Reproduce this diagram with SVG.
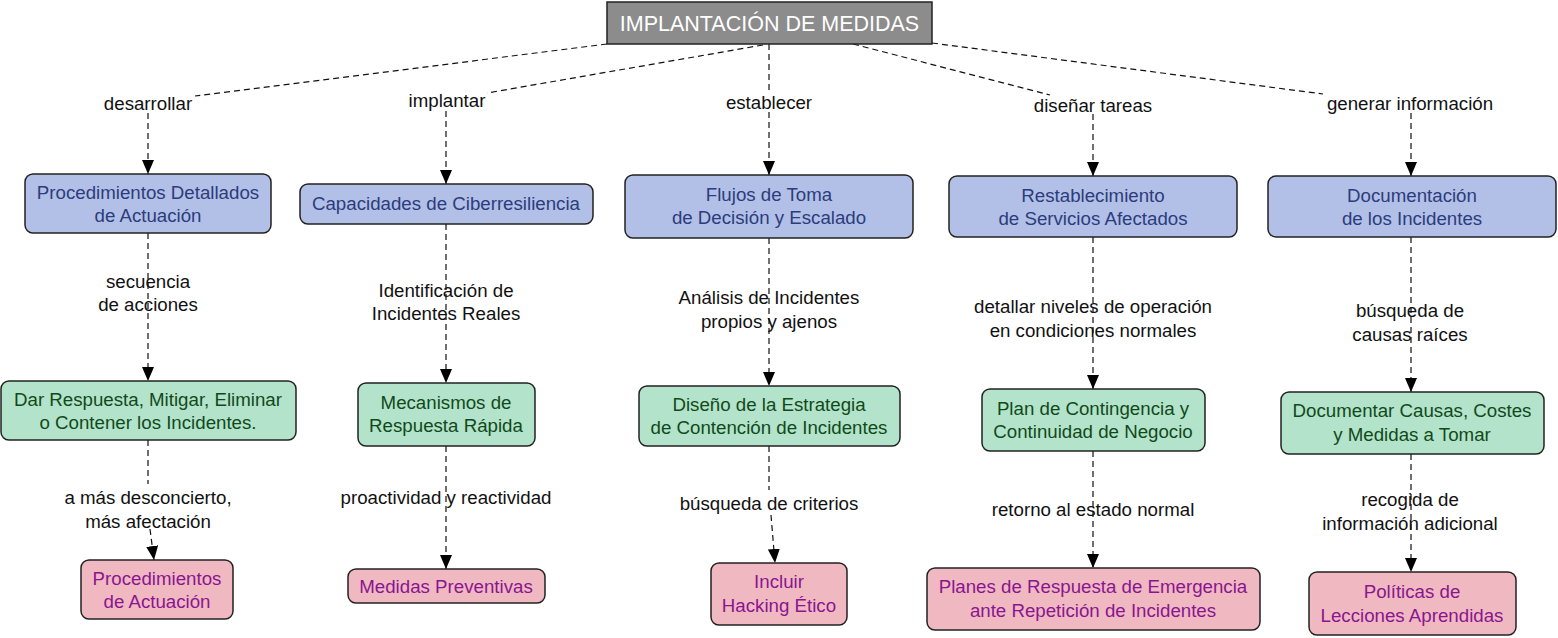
<svg xmlns="http://www.w3.org/2000/svg" width="1558" height="638" viewBox="0 0 1558 638">
<defs>
<marker id="arr" markerWidth="14" markerHeight="12" refX="14" refY="6" orient="auto" markerUnits="userSpaceOnUse">
<path d="M0,0 L14,6 L0,12 z" fill="#000"/>
</marker>
<style>
.c{fill:none;stroke:#111;stroke-width:1.2;stroke-dasharray:6,4}
.a{marker-end:url(#arr)}
rect{stroke:#222;stroke-width:1.5}
.b rect{fill:#b2c0e7}
.g rect{fill:#b3e3cb}
.p rect{fill:#f0b9c1}
text{font-family:"Liberation Sans",Arial,sans-serif;font-size:18.7px;text-anchor:middle}
.b text{fill:#2c3c7c}
.g text{fill:#114a1a}
.p text{fill:#8a1590}
.l{fill:#111}
</style>
</defs>
<g id="connectors">
<line class="c" x1="607" y1="44" x2="195" y2="96"/>
<line class="c" x1="763" y1="45" x2="487" y2="93"/>
<line class="c" x1="769" y1="44" x2="769" y2="93"/>
<line class="c" x1="853" y1="44" x2="1050" y2="95"/>
<line class="c" x1="932" y1="43" x2="1323" y2="94"/>
<line class="c a" x1="148" y1="113" x2="148" y2="174"/>
<line class="c a" x1="446" y1="111" x2="446" y2="184"/>
<line class="c a" x1="769" y1="112" x2="769" y2="175"/>
<line class="c a" x1="1093" y1="114" x2="1093" y2="176"/>
<line class="c a" x1="1411" y1="113" x2="1411" y2="176"/>
<line class="c a" x1="148" y1="233" x2="148" y2="381"/>
<line class="c a" x1="446" y1="224" x2="446" y2="383"/>
<line class="c a" x1="769" y1="238" x2="769" y2="386"/>
<line class="c a" x1="1093" y1="237" x2="1093" y2="389"/>
<line class="c a" x1="1411" y1="237" x2="1411" y2="392"/>
<line class="c" x1="148" y1="440" x2="148" y2="484"/>
<line class="c a" x1="150" y1="529" x2="154" y2="560"/>
<line class="c a" x1="446" y1="446" x2="446" y2="569"/>
<line class="c" x1="769" y1="446" x2="769" y2="490"/>
<line class="c a" x1="771" y1="515" x2="775" y2="563"/>
<line class="c a" x1="1093" y1="451" x2="1093" y2="568"/>
<line class="c a" x1="1411" y1="454" x2="1411" y2="572"/>
</g>
<g id="labels">
<text class="l" x="148" y="110">desarrollar</text>
<text class="l" x="447" y="107">implantar</text>
<text class="l" x="769" y="109">establecer</text>
<text class="l" x="1093" y="112">diseñar tareas</text>
<text class="l" x="1410" y="110">generar información</text>
<text class="l" x="148" y="288">secuencia</text>
<text class="l" x="148" y="311">de acciones</text>
<text class="l" x="446" y="297">Identificación de</text>
<text class="l" x="446" y="320">Incidentes Reales</text>
<text class="l" x="769" y="304">Análisis de Incidentes</text>
<text class="l" x="769" y="328">propios y ajenos</text>
<text class="l" x="1093" y="313">detallar niveles de operación</text>
<text class="l" x="1093" y="337">en condiciones normales</text>
<text class="l" x="1410" y="317">búsqueda de</text>
<text class="l" x="1410" y="341">causas raíces</text>
<text class="l" x="148" y="504">a más desconcierto,</text>
<text class="l" x="148" y="528">más afectación</text>
<text class="l" x="446" y="504">proactividad y reactividad</text>
<text class="l" x="769" y="510">búsqueda de criterios</text>
<text class="l" x="1093" y="516">retorno al estado normal</text>
<text class="l" x="1410" y="506">recogida de</text>
<text class="l" x="1410" y="530">información adicional</text>
</g>
<g id="root">
<rect x="607" y="2" width="325" height="42" style="fill:#8c8c8c"/>
<text x="769.5" y="31" style="fill:#fff;font-size:21.5px">IMPLANTACIÓN DE MEDIDAS</text>
</g>
<g id="a1" class="b"><rect x="25" y="174" width="246" height="59" rx="8"/><text x="148" y="199">Procedimientos Detallados</text><text x="148" y="222">de Actuación</text></g>
<g id="b1" class="b"><rect x="300" y="184" width="293" height="40" rx="8"/><text x="446" y="210">Capacidades de Ciberresiliencia</text></g>
<g id="c1" class="b"><rect x="625" y="175" width="288" height="63" rx="8"/><text x="769" y="201">Flujos de Toma</text><text x="769" y="224">de Decisión y Escalado</text></g>
<g id="d1" class="b"><rect x="949" y="176" width="288" height="61" rx="8"/><text x="1093" y="202">Restablecimiento</text><text x="1093" y="225">de Servicios Afectados</text></g>
<g id="e1" class="b"><rect x="1268" y="176" width="288" height="61" rx="8"/><text x="1412" y="202">Documentación</text><text x="1412" y="225">de los Incidentes</text></g>
<g id="a2" class="g"><rect x="1" y="381" width="295" height="59" rx="8"/><text x="148" y="406">Dar Respuesta, Mitigar, Eliminar</text><text x="148" y="429">o Contener los Incidentes.</text></g>
<g id="b2" class="g"><rect x="358" y="383" width="177" height="63" rx="8"/><text x="446" y="409">Mecanismos de</text><text x="446" y="432">Respuesta Rápida</text></g>
<g id="c2" class="g"><rect x="639" y="386" width="261" height="60" rx="8"/><text x="769" y="411">Diseño de la Estrategia</text><text x="769" y="434">de Contención de Incidentes</text></g>
<g id="d2" class="g"><rect x="982" y="389" width="223" height="62" rx="8"/><text x="1093" y="415">Plan de Contingencia y</text><text x="1093" y="438">Continuidad de Negocio</text></g>
<g id="e2" class="g"><rect x="1281" y="392" width="263" height="62" rx="8"/><text x="1412" y="417">Documentar Causas, Costes</text><text x="1412" y="441">y Medidas a Tomar</text></g>
<g id="a3" class="p"><rect x="81" y="560" width="152" height="59" rx="8"/><text x="157" y="585">Procedimientos</text><text x="157" y="608">de Actuación</text></g>
<g id="b3" class="p"><rect x="348" y="569" width="197" height="34" rx="8"/><text x="446" y="593">Medidas Preventivas</text></g>
<g id="c3" class="p"><rect x="711" y="563" width="136" height="62" rx="8"/><text x="779" y="588">Incluir</text><text x="779" y="612">Hacking Ético</text></g>
<g id="d3" class="p"><rect x="927" y="568" width="333" height="62" rx="8"/><text x="1093" y="593">Planes de Respuesta de Emergencia</text><text x="1093" y="617">ante Repetición de Incidentes</text></g>
<g id="e3" class="p"><rect x="1309" y="572" width="207" height="63" rx="8"/><text x="1412" y="598">Políticas de</text><text x="1412" y="622">Lecciones Aprendidas</text></g>
</svg>
